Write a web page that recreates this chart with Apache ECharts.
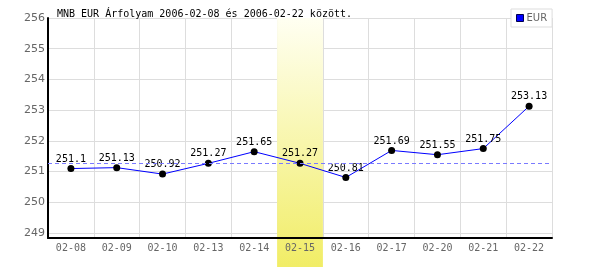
<!DOCTYPE html>
<html><head><meta charset="utf-8">
<script src="https://cdn.jsdelivr.net/npm/echarts@6/dist/echarts.min.js"></script>
<style>html,body{margin:0;padding:0;background:#fff}#c{width:600px;height:270px}</style>
</head><body><div id="c"></div>
<script>
const titleText = 'MNB EUR Árfolyam 2006-02-08 és 2006-02-22 között.';
const categories = ['02-08','02-09','02-10','02-13','02-14','02-15','02-16','02-17','02-20','02-21','02-22'];
const eurValues = [251.1, 251.13, 250.92, 251.27, 251.65, 251.27, 250.81, 251.69, 251.55, 251.75, 253.13];
const refLineValue = 251.27;
const highlightCategory = '02-15';
const yMin = 248.84, yMax = 256;

const bandData = categories.map(c => c === highlightCategory ? 1 : null);
const mono = 'DejaVu Sans Mono';

const chart = echarts.init(document.getElementById('c'), null, {renderer:'canvas'});
chart.setOption({
  animation:false,
  backgroundColor:'#fff',
  title:{text:titleText, left:52, top:4, textStyle:{fontFamily:mono, fontSize:10, fontWeight:'normal', color:'#000'}},
  legend:{left:511, top:9, padding:[4,5,4,5], itemWidth:7, itemHeight:7, itemGap:4,
    borderColor:'#dddddd', borderWidth:1, backgroundColor:'#fff',
    textStyle:{fontFamily:'DejaVu Sans', fontSize:10, color:'#666', padding:[0,0,0,-2]},
    data:[{name:'EUR', icon:'rect', itemStyle:{color:'#0000ff', borderColor:'#000050', borderWidth:1}}]},
  grid:[
    {left:48, right:48, top:18, bottom:32, containLabel:false},
    {left:48, right:48, top:18, bottom:3, containLabel:false}
  ],
  xAxis:[
    {type:'category', gridIndex:0, data:categories, boundaryGap:true, z:3,
      axisLine:{show:true, lineStyle:{color:'#000', width:2}},
      axisTick:{show:false}, splitLine:{show:false},
      axisLabel:{fontFamily:mono, fontSize:10, color:'#666', margin:5}},
    {type:'category', gridIndex:0, data:categories, boundaryGap:true, position:'bottom', z:0,
      axisLine:{show:false}, axisTick:{show:false}, axisLabel:{show:false},
      splitLine:{show:true, lineStyle:{color:'#dddddd', width:1}}},
    {type:'category', gridIndex:1, data:categories, boundaryGap:true, show:false}
  ],
  yAxis:[
    {type:'value', gridIndex:0, min:yMin, max:yMax, splitNumber:7, z:3,
      axisLine:{show:true, lineStyle:{color:'#000', width:2}},
      axisTick:{show:false}, splitLine:{show:false},
      axisLabel:{fontFamily:'DejaVu Sans', fontSize:11, color:'#666', margin:3, showMinLabel:false,
        formatter:v => Number.isInteger(v) ? String(v) : ''}},
    {type:'value', gridIndex:0, min:yMin, max:yMax, splitNumber:7, z:0,
      axisLine:{show:false}, axisTick:{show:false}, axisLabel:{show:false},
      splitLine:{show:true, lineStyle:{color:'#dddddd', width:1}}},
    {type:'value', gridIndex:1, min:0, max:1, show:false}
  ],
  series:[
    {name:'band', type:'bar', xAxisIndex:2, yAxisIndex:2, data:bandData, barWidth:'100%', z:1, silent:true,
      itemStyle:{color:new echarts.graphic.LinearGradient(0,0,0,1,[{offset:0,color:'#fffff2'},{offset:1,color:'#f1ed66'}])}},
    {name:'ref', type:'line', xAxisIndex:0, yAxisIndex:0, data:[], z:0.5, silent:true,
      markLine:{silent:true, symbol:'none', label:{show:false},
        lineStyle:{color:'#7a7aff', type:[4,3], width:1}, data:[{yAxis:refLineValue}]}},
    {name:'EUR', type:'line', xAxisIndex:0, yAxisIndex:0, data:eurValues, z:2,
      lineStyle:{color:'#0000ff', width:1}, itemStyle:{color:'#000'},
      symbol:'circle', symbolSize:7, showAllSymbol:true,
      label:{show:true, position:'top', distance:1, fontFamily:mono, fontSize:10, color:'#000',
        formatter:p => String(p.value)}}
  ]
});
</script></body></html>
